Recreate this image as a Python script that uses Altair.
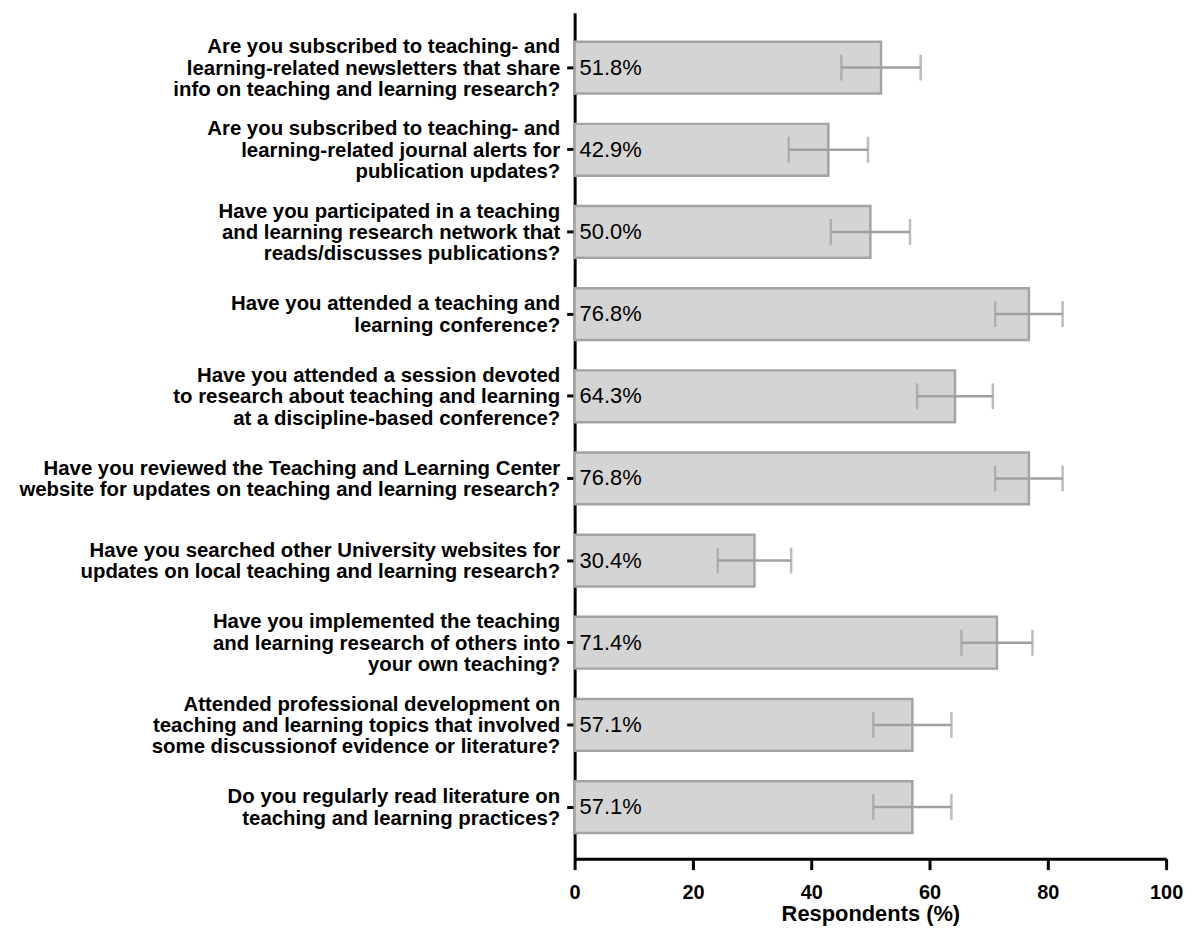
import altair as alt
import pandas as pd

questions = [
    "Are you subscribed to teaching- and|learning-related newsletters that share|info on teaching and learning research?",
    "Are you subscribed to teaching- and|learning-related journal alerts for|publication updates?",
    "Have you participated in a teaching|and learning research network that|reads/discusses publications?",
    "Have you attended a teaching and|learning conference?",
    "Have you attended a session devoted|to research about teaching and learning|at a discipline-based conference?",
    "Have you reviewed the Teaching and Learning Center|website for updates on teaching and learning research?",
    "Have you searched other University websites for|updates on local teaching and learning research?",
    "Have you implemented the teaching|and learning research of others into|your own teaching?",
    "Attended professional development on|teaching and learning topics that involved|some discussionof evidence or literature?",
    "Do you regularly read literature on|teaching and learning practices?",
]
values = [51.8, 42.9, 50.0, 76.8, 64.3, 76.8, 30.4, 71.4, 57.1, 57.1]
errors = [6.7, 6.7, 6.7, 5.7, 6.4, 5.7, 6.2, 6.0, 6.6, 6.6]
labels = ["51.8%", "42.9%", "50.0%", "76.8%", "64.3%", "76.8%", "30.4%", "71.4%", "57.1%", "57.1%"]

df = pd.DataFrame({
    "q": questions,
    "v": values,
    "lo": [v - e for v, e in zip(values, errors)],
    "hi": [v + e for v, e in zip(values, errors)],
    "lab": labels,
})

FONT = "Liberation Sans"
LH = 21.5

yscale = alt.Scale(domain=questions, paddingInner=0.37, paddingOuter=0.333, align=0.53)
xscale = alt.Scale(domain=[0, 100], nice=False)

y_enc = alt.Y(
    "q:N", sort=questions, scale=yscale, title=None,
    axis=alt.Axis(
        labelExpr="split(datum.label, '|')",
        labelFont=FONT, labelFontSize=20.5, labelFontWeight="bold", labelColor="black",
        labelLineHeight=LH, labelLimit=700, labelPadding=7, labelOverlap=False,
        labelAlign="right", labelBaseline="middle",
        labelOffset=alt.ExprRef(expr=f"-(length(split(datum.value, '|')) - 1) * {LH / 2} + 1"),
        tickSize=8, tickWidth=3, tickColor="black",
        domainWidth=3, domainColor="black",
    ),
)

x_axis = alt.Axis(
    values=[0, 20, 40, 60, 80, 100], format="d",
    labelFont=FONT, labelFontSize=20, labelFontWeight="bold", labelColor="black",
    labelPadding=13, labelFlush=False, tickSize=11, tickWidth=3, tickColor="black",
    domainWidth=3, domainColor="black",
    title="Respondents (%)", titleFont=FONT, titleFontSize=22, titleFontWeight="bold",
    titleColor="black", titlePadding=1,
)

base = alt.Chart(df)

bars = base.mark_bar(fill="#d4d4d4", stroke="#a4a4a4", strokeWidth=2.5).encode(
    x=alt.X("v:Q", scale=xscale, axis=x_axis),
    y=y_enc,
)

err = base.mark_rule(color="#a0a0a0", strokeWidth=2.5).encode(
    x="lo:Q", x2="hi:Q", y=alt.Y("q:N", sort=questions),
)
cap_lo = base.mark_tick(color="#a0a0a0", thickness=2.5, size=26).encode(
    x="lo:Q", y=alt.Y("q:N", sort=questions),
)
cap_hi = base.mark_tick(color="#a0a0a0", thickness=2.5, size=26).encode(
    x="hi:Q", y=alt.Y("q:N", sort=questions),
)

text = base.mark_text(align="left", baseline="middle", dx=5, font=FONT,
                      fontSize=22, color="black").encode(
    x=alt.datum(0),
    y=alt.Y("q:N", sort=questions),
    text="lab:N",
)

chart = alt.layer(bars, err, cap_lo, cap_hi, text).properties(
    width=595, height=851,
    autosize=alt.AutoSizeParams(type="none"),
    padding={"left": 570, "top": 2, "right": 20, "bottom": 68},
    background="white",
).configure_view(stroke=None).configure_axis(grid=False)

chart.save("out.html", embed_options={"renderer": "svg", "actions": False})
